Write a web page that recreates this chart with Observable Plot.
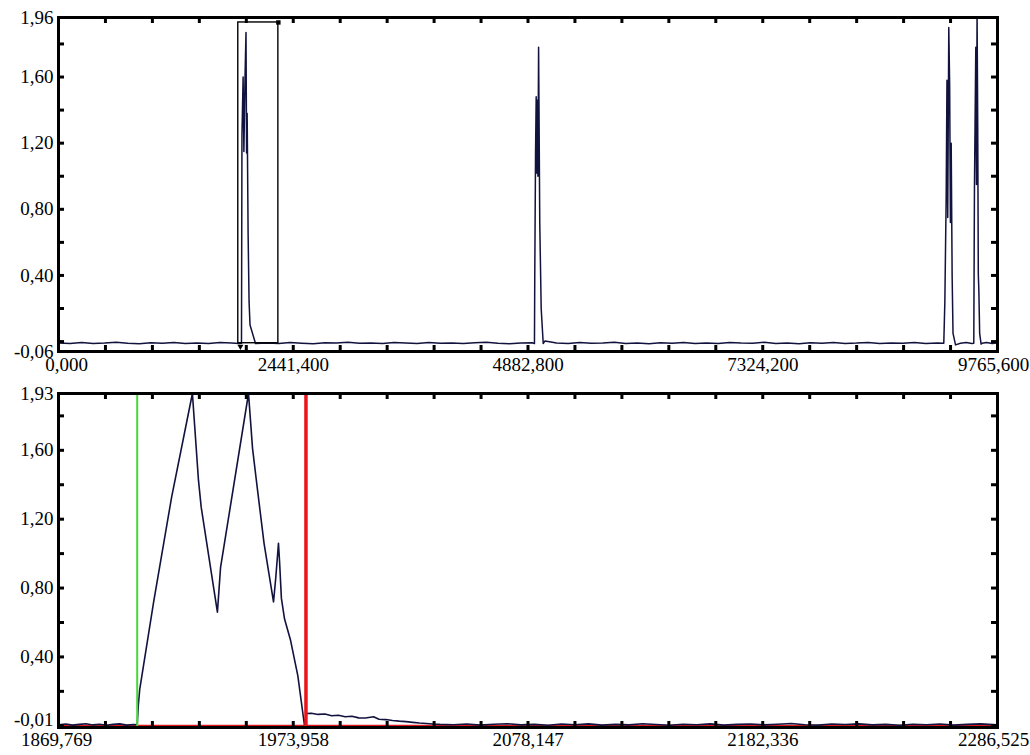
<!DOCTYPE html>
<html><head><meta charset="utf-8">
<script src="https://cdn.jsdelivr.net/npm/d3@7"></script>
<script src="https://cdn.jsdelivr.net/npm/@observablehq/plot@0.6"></script>
<style>
html,body{margin:0;padding:0;background:#fff;}
#c svg{display:block;}
</style></head><body><div id="c"></div>
<script>
// ---------- DATA ----------
// Top panel: full record
const topX = [0,120,240,360,480,600,720,840,960,1080,1200,1320,1440,1560,1680,1800,1880,1903,
  1908,1920,1928,1940,1950,1956,1962,1972,1982,1992,2049,
  2170,2290,2410,2530,2650,2770,2890,3010,3130,3250,3370,3490,3610,3730,3850,3970,4090,4210,4330,4450,4570,4690,4810,4926,4950,
  4953,4961,4968,4973,4980,4986,4993,5005,5020,5041,5060,
  5180,5300,5420,5540,5660,5780,5900,6020,6140,6260,6380,6500,6620,6740,6860,6980,7100,7220,7340,7460,7580,7700,7820,7940,8060,8180,8300,8420,8540,8660,8780,8900,9020,9140,9207,
  9218,9232,9240,9248,9259,9268,9276,9284,9294,9303,9329,
  9380,9440,9500,9519,
  9526,9532,9540,9547,9553,9560,9566,9572,9580,9595,9606,
  9650,9710,9765.6];
const topY = [-0.008,-0.011,-0.006,-0.012,-0.009,-0.004,-0.010,-0.013,-0.007,-0.010,-0.005,-0.011,-0.008,-0.012,-0.006,-0.009,-0.012,-0.010,
  1.25,1.60,1.15,1.60,1.87,1.14,1.38,0.65,0.24,0.10,-0.012,
  -0.008,-0.011,-0.006,-0.010,-0.013,-0.007,-0.009,-0.004,-0.010,-0.008,-0.012,-0.006,-0.009,-0.011,-0.005,-0.010,-0.008,-0.012,-0.007,-0.004,-0.010,-0.013,-0.008,-0.007,-0.012,
  0.38,1.12,1.48,1.02,1.46,1.00,1.78,0.72,0.20,-0.012,0.004,
  -0.009,-0.012,-0.006,-0.010,-0.008,-0.004,-0.011,-0.009,-0.013,-0.007,-0.010,-0.005,-0.011,-0.008,-0.012,-0.006,-0.009,-0.010,-0.004,-0.011,-0.008,-0.013,-0.007,-0.010,-0.006,-0.011,-0.009,-0.005,-0.012,-0.008,-0.010,-0.006,-0.011,-0.009,-0.010,
  0.24,0.88,1.58,0.75,1.90,1.55,0.72,1.20,0.39,0.05,-0.020,
  -0.010,-0.006,-0.012,-0.010,
  0.94,1.30,1.78,0.95,1.99,1.30,0.41,0.30,0.05,-0.015,-0.010,
  -0.006,-0.011,-0.008];

// Bottom panel: zoomed detail
const botX = [1869.769,1873,1876,1879,1882,1885,1888,1891,1894,1897,1900,1903,1904.7,
  1905.2,1905.8,1912,1920,1929.2,1931.9,1933.1,1940.3,1941.7,1954.1,1955.9,1958,1961,1965.2,
  1966.2,1967.4,1967.9,1968.7,1970.1,1972.7,1976,1978.9,
  1979.8,1982,1985,1988,1991,1994,1997,2000,2003,2006,2009.6,2012,2015,2018,2021,2024,2027,2030,2033,2036,2039,
  2045,2051,2057,2063,2069,2075,2081,2087,2093,2099,2105,2111,2117,2123,2129,2135,2141,2147,2153,2159,2165,2171,2177,2183,2189,2195,2201,2207,2213,2219,2225,2231,2237,2243,2249,2255,2261,2267,2273,2279,2286.525];
const botY = [0.006,0.010,0.004,0.008,0.012,0.005,0.009,0.003,0.008,0.011,0.004,0.007,0.006,
  0.12,0.21,0.72,1.33,1.93,1.425,1.27,0.66,0.92,1.93,1.61,1.38,1.06,0.72,
  0.86,1.06,0.95,0.74,0.62,0.50,0.29,0.006,
  0.071,0.073,0.066,0.068,0.058,0.061,0.052,0.055,0.046,0.045,0.052,0.038,0.036,0.031,0.027,0.024,0.020,0.016,0.013,0.010,0.008,
  0.006,0.010,0.004,0.009,0.012,0.005,0.008,0.003,0.010,0.006,0.011,0.004,0.008,0.005,0.012,0.007,0.003,0.009,0.006,0.011,0.004,0.008,0.010,0.005,0.009,0.013,0.006,0.004,0.010,0.007,0.011,0.005,0.008,0.003,0.009,0.006,0.010,0.004,0.008,0.011,0.005,0.007];

// Axes
const topXDomain = [0, 9765.6];
const topYDomain = [-0.06, 1.96];
const topXTicks = [0, 2441.4, 4882.8, 7324.2, 9765.6];
const topXTickLabels = ["0,000", "2441,400", "4882,800", "7324,200", "9765,600"];
const topYTicks = [1.96, 1.60, 1.20, 0.80, 0.40, -0.06];
const topYTickLabels = ["1,96", "1,60", "1,20", "0,80", "0,40", "-0,06"];

const botXDomain = [1869.769, 2286.525];
const botYDomain = [-0.01, 1.93];
const botXTicks = [1869.769, 1973.958, 2078.147, 2182.336, 2286.525];
const botXTickLabels = ["1869,769", "1973,958", "2078,147", "2182,336", "2286,525"];
const botYTicks = [1.93, 1.60, 1.20, 0.80, 0.40, -0.01];
const botYTickLabels = ["1,93", "1,60", "1,20", "0,80", "0,40", "-0,01"];
const minorY = [0, 0.2, 0.4, 0.6, 0.8, 1.0, 1.2, 1.4, 1.6, 1.8];

// Zoom window shown in the lower panel, and cursors
const zoomBox = [{x1: 1869.769, x2: 2286.525, y1: -0.01, y2: 1.93}];
const greenCursor = [1904.7];
const redCursor = [1979.6];
const redLevel = [0.0];

// ---------- DRAW ----------
const W = 1030, ML = 58, MR = 33, TICK = 6;
const FONT = "Liberation Serif, Times New Roman, serif";
const lineColor = "#12123e";

function panel({height, marginTop, marginBottom, xDomain, yDomain, xTicks, xLabels, yTicks, yLabels, firstDx, labelDy, lastYDy, marks}) {
  const innerH = height - marginTop - marginBottom;
  const innerW = W - ML - MR;
  const step = (xDomain[1] - xDomain[0]) / 20;
  const minorX = d3.range(0, 21).map(k => xDomain[0] + k * step);
  const xl = xTicks.map((v, i) => ({v, t: xLabels[i]}));
  const yl = yTicks.map((v, i) => ({v, t: yLabels[i]}));
  const n = xl.length, m = yl.length;
  const txt = {x: "v", text: "t", frameAnchor: "bottom", dy: labelDy, fontSize: 19, fontFamily: FONT, fill: "black"};
  const ytxt = {y: "v", text: "t", frameAnchor: "left", textAnchor: "end", dx: -5, fontSize: 19, fontFamily: FONT, fill: "black"};
  return Plot.plot({
    width: W, height, marginTop, marginBottom, marginLeft: ML, marginRight: MR,
    x: {domain: xDomain, axis: null},
    y: {domain: yDomain, axis: null},
    style: {background: "white", overflow: "visible"},
    marks: [
      ...marks,
      Plot.tickX(minorX, {x: d => d, insetBottom: innerH - TICK, stroke: "black", strokeWidth: 3}),
      Plot.tickX(minorX, {x: d => d, insetTop: innerH - TICK, stroke: "black", strokeWidth: 3}),
      Plot.tickY(minorY, {y: d => d, insetRight: innerW - TICK, stroke: "black", strokeWidth: 3}),
      Plot.tickY(minorY, {y: d => d, insetLeft: innerW - TICK, stroke: "black", strokeWidth: 3}),
      Plot.frame({stroke: "black", strokeWidth: 3}),
      Plot.text(xl.slice(0, 1), {...txt, dx: firstDx}),
      Plot.text(xl.slice(1, n - 1), txt),
      Plot.text(xl.slice(n - 1), {...txt, dx: -4}),
      Plot.text(yl.slice(0, m - 1), ytxt),
      Plot.text(yl.slice(m - 1), {...ytxt, dy: lastYDy})
    ]
  });
}

const topTable = topX.map((x, i) => ({x, y: topY[i]}));
const botTable = botX.map((x, i) => ({x, y: botY[i]}));

const p1 = panel({
  height: 376, marginTop: 17, marginBottom: 25,
  xDomain: topXDomain, yDomain: topYDomain,
  xTicks: topXTicks, xLabels: topXTickLabels, yTicks: topYTicks, yLabels: topYTickLabels,
  firstDx: 8, labelDy: 19, lastYDy: 0,
  marks: [
    Plot.line(topTable, {x: "x", y: "y", stroke: lineColor, strokeWidth: 1.5, clip: true}),
    Plot.rect(zoomBox, {x1: "x1", x2: "x2", y1: "y1", y2: "y2", fill: "none", stroke: "black", strokeWidth: 1.4}),
    Plot.dot(zoomBox, {x: "x2", y: "y2", symbol: "square", r: 2.5, fill: "black"}),
    Plot.dot(zoomBox, {x: d => d.x1 + 22, y: d => d.y1 - 0.02, symbol: "triangle", rotate: 180, r: 2.2, fill: "black"})
  ]
});

const p2 = panel({
  height: 379, marginTop: 17, marginBottom: 28,
  xDomain: botXDomain, yDomain: botYDomain,
  xTicks: botXTicks, xLabels: botXTickLabels, yTicks: botYTicks, yLabels: botYTickLabels,
  firstDx: -2, labelDy: 18, lastYDy: -8,
  marks: [
    Plot.ruleY(redLevel, {y: d => d, stroke: "#e0161c", strokeWidth: 2}),
    Plot.line(botTable, {x: "x", y: "y", stroke: lineColor, strokeWidth: 1.6, clip: true}),
    Plot.ruleX(greenCursor, {x: d => d, stroke: "#44d83c", strokeWidth: 2}),
    Plot.ruleX(redCursor, {x: d => d, stroke: "#e8161c", strokeWidth: 3.5})
  ]
});

document.getElementById("c").append(p1, p2);
</script>
</body></html>
